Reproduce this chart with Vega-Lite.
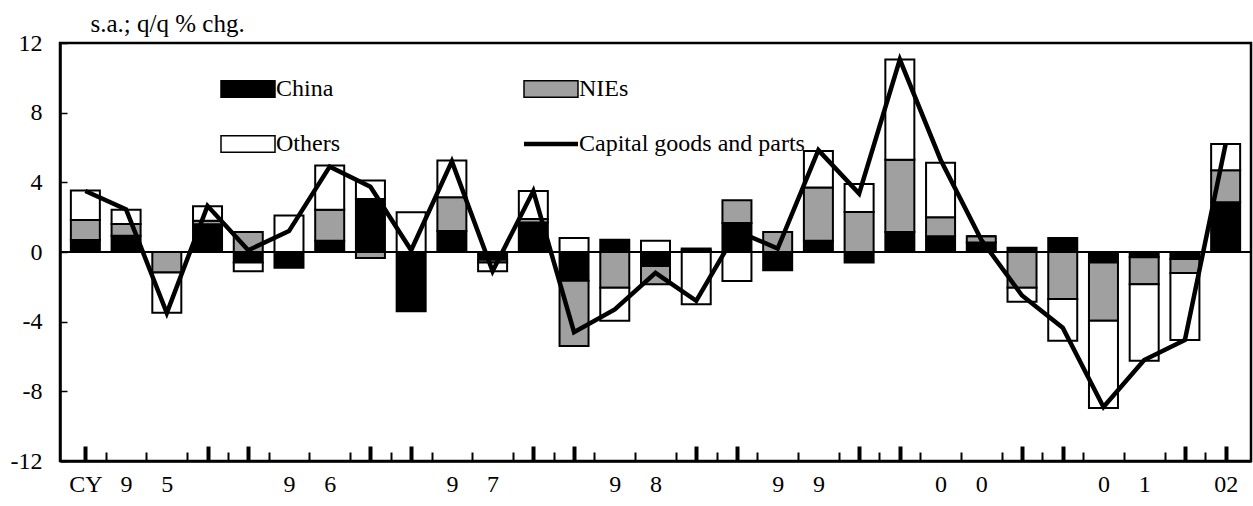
{
  "$schema": "https://vega.github.io/schema/vega-lite/v6.json",
  "width": 1191,
  "height": 418,
  "autosize": {"type": "none"},
  "padding": {"left": 60, "top": 43, "right": 2, "bottom": 45},
  "background": "white",
  "config": {
    "font": "Liberation Serif",
    "view": {"stroke": "black", "strokeWidth": 2.5},
    "axis": {"grid": false, "labelColor": "black", "tickColor": "black", "domainColor": "black", "labelFont": "Liberation Serif", "titleFont": "Liberation Serif"}
  },
  "resolve": {"axis": {"x": "independent"}},
  "datasets": {
    "parts": [
      {"i": 0, "quarter": "1995Q1", "region": "China", "value": 0.69},
      {"i": 0, "quarter": "1995Q1", "region": "NIEs", "value": 1.15},
      {"i": 0, "quarter": "1995Q1", "region": "Others", "value": 1.69},
      {"i": 1, "quarter": "1995Q2", "region": "China", "value": 0.93},
      {"i": 1, "quarter": "1995Q2", "region": "NIEs", "value": 0.68},
      {"i": 1, "quarter": "1995Q2", "region": "Others", "value": 0.82},
      {"i": 2, "quarter": "1995Q3", "region": "China", "value": 0.0},
      {"i": 2, "quarter": "1995Q3", "region": "NIEs", "value": -1.18},
      {"i": 2, "quarter": "1995Q3", "region": "Others", "value": -2.31},
      {"i": 3, "quarter": "1995Q4", "region": "China", "value": 1.6},
      {"i": 3, "quarter": "1995Q4", "region": "NIEs", "value": 0.2},
      {"i": 3, "quarter": "1995Q4", "region": "Others", "value": 0.83},
      {"i": 4, "quarter": "1996Q1", "region": "China", "value": -0.6},
      {"i": 4, "quarter": "1996Q1", "region": "NIEs", "value": 1.15},
      {"i": 4, "quarter": "1996Q1", "region": "Others", "value": -0.5},
      {"i": 5, "quarter": "1996Q2", "region": "China", "value": -0.9},
      {"i": 5, "quarter": "1996Q2", "region": "NIEs", "value": 0.0},
      {"i": 5, "quarter": "1996Q2", "region": "Others", "value": 2.1},
      {"i": 6, "quarter": "1996Q3", "region": "China", "value": 0.65},
      {"i": 6, "quarter": "1996Q3", "region": "NIEs", "value": 1.77},
      {"i": 6, "quarter": "1996Q3", "region": "Others", "value": 2.55},
      {"i": 7, "quarter": "1996Q4", "region": "China", "value": 3.05},
      {"i": 7, "quarter": "1996Q4", "region": "NIEs", "value": -0.35},
      {"i": 7, "quarter": "1996Q4", "region": "Others", "value": 1.05},
      {"i": 8, "quarter": "1997Q1", "region": "China", "value": -3.4},
      {"i": 8, "quarter": "1997Q1", "region": "NIEs", "value": 0.0},
      {"i": 8, "quarter": "1997Q1", "region": "Others", "value": 2.28},
      {"i": 9, "quarter": "1997Q2", "region": "China", "value": 1.2},
      {"i": 9, "quarter": "1997Q2", "region": "NIEs", "value": 1.95},
      {"i": 9, "quarter": "1997Q2", "region": "Others", "value": 2.1},
      {"i": 10, "quarter": "1997Q3", "region": "China", "value": -0.45},
      {"i": 10, "quarter": "1997Q3", "region": "NIEs", "value": -0.15},
      {"i": 10, "quarter": "1997Q3", "region": "Others", "value": -0.5},
      {"i": 11, "quarter": "1997Q4", "region": "China", "value": 1.7},
      {"i": 11, "quarter": "1997Q4", "region": "NIEs", "value": 0.2},
      {"i": 11, "quarter": "1997Q4", "region": "Others", "value": 1.6},
      {"i": 12, "quarter": "1998Q1", "region": "China", "value": -1.65},
      {"i": 12, "quarter": "1998Q1", "region": "NIEs", "value": -3.75},
      {"i": 12, "quarter": "1998Q1", "region": "Others", "value": 0.8},
      {"i": 13, "quarter": "1998Q2", "region": "China", "value": 0.7},
      {"i": 13, "quarter": "1998Q2", "region": "NIEs", "value": -2.05},
      {"i": 13, "quarter": "1998Q2", "region": "Others", "value": -1.9},
      {"i": 14, "quarter": "1998Q3", "region": "China", "value": -0.8},
      {"i": 14, "quarter": "1998Q3", "region": "NIEs", "value": -1.05},
      {"i": 14, "quarter": "1998Q3", "region": "Others", "value": 0.64},
      {"i": 15, "quarter": "1998Q4", "region": "China", "value": 0.1},
      {"i": 15, "quarter": "1998Q4", "region": "NIEs", "value": 0.1},
      {"i": 15, "quarter": "1998Q4", "region": "Others", "value": -3.0},
      {"i": 16, "quarter": "1999Q1", "region": "China", "value": 1.67},
      {"i": 16, "quarter": "1999Q1", "region": "NIEs", "value": 1.3},
      {"i": 16, "quarter": "1999Q1", "region": "Others", "value": -1.66},
      {"i": 17, "quarter": "1999Q2", "region": "China", "value": -1.05},
      {"i": 17, "quarter": "1999Q2", "region": "NIEs", "value": 1.15},
      {"i": 17, "quarter": "1999Q2", "region": "Others", "value": 0.0},
      {"i": 18, "quarter": "1999Q3", "region": "China", "value": 0.65},
      {"i": 18, "quarter": "1999Q3", "region": "NIEs", "value": 3.05},
      {"i": 18, "quarter": "1999Q3", "region": "Others", "value": 2.1},
      {"i": 19, "quarter": "1999Q4", "region": "China", "value": -0.6},
      {"i": 19, "quarter": "1999Q4", "region": "NIEs", "value": 2.3},
      {"i": 19, "quarter": "1999Q4", "region": "Others", "value": 1.6},
      {"i": 20, "quarter": "2000Q1", "region": "China", "value": 1.15},
      {"i": 20, "quarter": "2000Q1", "region": "NIEs", "value": 4.15},
      {"i": 20, "quarter": "2000Q1", "region": "Others", "value": 5.75},
      {"i": 21, "quarter": "2000Q2", "region": "China", "value": 0.9},
      {"i": 21, "quarter": "2000Q2", "region": "NIEs", "value": 1.1},
      {"i": 21, "quarter": "2000Q2", "region": "Others", "value": 3.13},
      {"i": 22, "quarter": "2000Q3", "region": "China", "value": 0.55},
      {"i": 22, "quarter": "2000Q3", "region": "NIEs", "value": 0.35},
      {"i": 22, "quarter": "2000Q3", "region": "Others", "value": 0.0},
      {"i": 23, "quarter": "2000Q4", "region": "China", "value": 0.25},
      {"i": 23, "quarter": "2000Q4", "region": "NIEs", "value": -2.05},
      {"i": 23, "quarter": "2000Q4", "region": "Others", "value": -0.8},
      {"i": 24, "quarter": "2001Q1", "region": "China", "value": 0.8},
      {"i": 24, "quarter": "2001Q1", "region": "NIEs", "value": -2.7},
      {"i": 24, "quarter": "2001Q1", "region": "Others", "value": -2.4},
      {"i": 25, "quarter": "2001Q2", "region": "China", "value": -0.6},
      {"i": 25, "quarter": "2001Q2", "region": "NIEs", "value": -3.35},
      {"i": 25, "quarter": "2001Q2", "region": "Others", "value": -5.0},
      {"i": 26, "quarter": "2001Q3", "region": "China", "value": -0.3},
      {"i": 26, "quarter": "2001Q3", "region": "NIEs", "value": -1.55},
      {"i": 26, "quarter": "2001Q3", "region": "Others", "value": -4.4},
      {"i": 27, "quarter": "2001Q4", "region": "China", "value": -0.4},
      {"i": 27, "quarter": "2001Q4", "region": "NIEs", "value": -0.8},
      {"i": 27, "quarter": "2001Q4", "region": "Others", "value": -3.85},
      {"i": 28, "quarter": "2002Q1", "region": "China", "value": 2.85},
      {"i": 28, "quarter": "2002Q1", "region": "NIEs", "value": 1.85},
      {"i": 28, "quarter": "2002Q1", "region": "Others", "value": 1.5}
    ],
    "total": [
      {"i": 0, "quarter": "1995Q1", "total": 3.5},
      {"i": 1, "quarter": "1995Q2", "total": 2.45},
      {"i": 2, "quarter": "1995Q3", "total": -3.5},
      {"i": 3, "quarter": "1995Q4", "total": 2.65},
      {"i": 4, "quarter": "1996Q1", "total": 0.1},
      {"i": 5, "quarter": "1996Q2", "total": 1.2},
      {"i": 6, "quarter": "1996Q3", "total": 4.9},
      {"i": 7, "quarter": "1996Q4", "total": 3.75},
      {"i": 8, "quarter": "1997Q1", "total": 0.1},
      {"i": 9, "quarter": "1997Q2", "total": 5.2},
      {"i": 10, "quarter": "1997Q3", "total": -1.1},
      {"i": 11, "quarter": "1997Q4", "total": 3.5},
      {"i": 12, "quarter": "1998Q1", "total": -4.6},
      {"i": 13, "quarter": "1998Q2", "total": -3.3},
      {"i": 14, "quarter": "1998Q3", "total": -1.2},
      {"i": 15, "quarter": "1998Q4", "total": -2.8},
      {"i": 16, "quarter": "1999Q1", "total": 1.2},
      {"i": 17, "quarter": "1999Q2", "total": 0.2},
      {"i": 18, "quarter": "1999Q3", "total": 5.85},
      {"i": 19, "quarter": "1999Q4", "total": 3.35},
      {"i": 20, "quarter": "2000Q1", "total": 11.05},
      {"i": 21, "quarter": "2000Q2", "total": 5.3},
      {"i": 22, "quarter": "2000Q3", "total": 0.7},
      {"i": 23, "quarter": "2000Q4", "total": -2.5},
      {"i": 24, "quarter": "2001Q1", "total": -4.35},
      {"i": 25, "quarter": "2001Q2", "total": -8.9},
      {"i": 26, "quarter": "2001Q3", "total": -6.2},
      {"i": 27, "quarter": "2001Q4", "total": -5.05},
      {"i": 28, "quarter": "2002Q1", "total": 6.2}
    ]
  },
  "layer": [
    {
      "data": {"name": "parts"},
      "mark": {"type": "bar", "width": 29, "stroke": "black", "strokeWidth": 2},
      "encoding": {
        "x": {
          "field": "i", "type": "quantitative",
          "scale": {"domain": [-0.5, 28.5], "nice": false, "zero": false},
          "axis": {
            "orient": "bottom",
            "title": null,
            "values": [0,0.5,1,1.5,2,2.5,3,3.5,4,4.5,5,5.5,6,6.5,7,7.5,8,8.5,9,9.5,10,10.5,11,11.5,12,12.5,13,13.5,14,14.5,15,15.5,16,16.5,17,17.5,18,18.5,19,19.5,20,20.5,21,21.5,22,22.5,23,23.5,24,24.5,25,25.5,26,26.5,27,27.5,28],
            "labelExpr": "datum.value == 0 ? 'CY' : datum.value == 28 ? '02' : (datum.value % 4 == 1) ? (datum.value < 20 ? '9' : '0') : (datum.value % 4 == 2) ? ['5','6','7','8','9','0','1'][(datum.value - 2) / 4] : ''",
            "labelOverlap": false,
            "labelFlush": false,
            "labelFontSize": 24,
            "labelBaseline": "top",
            "labelPadding": 20,
            "domainWidth": 2.5,
            "tickSize": -9,
            "tickWidth": 2,
            "tickOpacity": {"condition": {"test": "datum.value % 1 == 0", "value": 0}, "value": 1}
          }
        },
        "y": {
          "field": "value", "type": "quantitative", "stack": "zero",
          "scale": {"domain": [-12, 12], "nice": false},
          "axis": {
            "values": [-12,-8,-4,0,4,8,12],
            "labelExpr": "'' + datum.value",
            "labelFontSize": 24,
            "tickSize": -7,
            "tickWidth": 1.5,
            "labelPadding": 25,
            "domainWidth": 2.5,
            "title": "s.a.; q/q % chg.",
            "titleAngle": 0,
            "titleAlign": "left",
            "titleBaseline": "alphabetic",
            "titleX": 30,
            "titleY": -12,
            "titleFontSize": 25,
            "titleFontWeight": "normal",
            "titleColor": "black"
          }
        },
        "fill": {
          "field": "region", "type": "nominal",
          "scale": {"domain": ["China", "NIEs", "Others", "Capital goods and parts"], "range": ["#000000", "#a0a0a0", "#ffffff", "#000000"]},
          "legend": {
            "orient": "none",
            "direction": "horizontal",
            "legendX": 159,
            "legendY": 34,
            "columns": 2,
            "title": null,
            "padding": 0,
            "rowPadding": 31,
            "columnPadding": 175,
            "symbolSize": 2916,
            "symbolOffset": 17,
            "symbolType": "M-1,-0.31H1V0.31H-1Z",
            "symbolStrokeColor": "black",
            "symbolStrokeWidth": 1.5,
            "symbolOpacity": 1,
            "labelFontSize": 24,
            "labelFont": "Liberation Serif",
            "labelColor": "black",
            "labelOffset": 16,
            "labelLimit": 400,
            "encode": {
              "symbols": {
                "update": {
                  "shape": {"signal": "datum.label === 'Capital goods and parts' ? 'M-1,0H1' : 'M-1,-0.31H1V0.31H-1Z'"},
                  "strokeWidth": {"signal": "datum.label === 'Capital goods and parts' ? 4.5 : 1.5"},
                  "stroke": {"value": "black"}
                }
              }
            }
          }
        },
        "order": {"field": "region", "sort": "ascending"}
      }
    },
    {
      "data": {"values": [{}]},
      "mark": {"type": "rule", "color": "black", "strokeWidth": 2},
      "encoding": {"y": {"datum": 0}}
    },
    {
      "data": {"name": "total"},
      "mark": {"type": "line", "color": "black", "strokeWidth": 4.5},
      "encoding": {
        "x": {
          "field": "i", "type": "quantitative",
          "axis": {
            "orient": "bottom",
            "title": null,
            "values": [0,3,4,7,8,11,12,15,16,19,20,23,24,27,28],
            "labels": false,
            "domain": false,
            "tickSize": -15,
            "tickWidth": 4
          }
        },
        "y": {"field": "total", "type": "quantitative", "title": "s.a.; q/q % chg."}
      }
    }
  ]
}
